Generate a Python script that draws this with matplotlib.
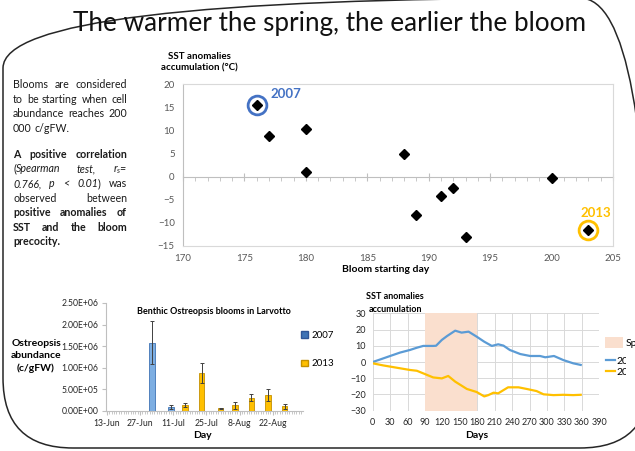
import matplotlib
matplotlib.use("Agg")
import numpy as np
import pandas as pd
import matplotlib.pyplot as plt
from matplotlib.patches import FancyBboxPatch, Patch
from matplotlib.lines import Line2D
from matplotlib.ticker import MultipleLocator, FuncFormatter
from matplotlib.transforms import IdentityTransform, Bbox, TransformedBbox

plt.rcParams['font.family'] = ['Lato', 'DejaVu Sans']
plt.rcParams['mathtext.fontset'] = 'custom'
plt.rcParams['mathtext.rm'] = 'Lato'
plt.rcParams['mathtext.it'] = 'Lato:italic'

W, H = 635, 451
GREY_TXT = '#595959'
AXIS_GREY = '#BFBFBF'
BLUE = '#4472C4'
ORANGE = '#FFC000'
SPRING_COL = '#FADFCE'

# --- data -------------------------------------------------------------
# one point per year: day the bloom started vs accumulated SST anomaly
bloom_day = [176, 177, 180, 180, 188, 189, 191, 192, 193, 200, 203]
sst_accum = [15.4, 8.8, 10.3, 0.9, 4.8, -8.4, -4.1, -2.5, -13.1, -0.4, -11.6]
i_2007, i_2013 = 0, 10

# benthic Ostreopsis abundance (cells per g fresh weight), Larvotto
dates_2007 = ['07-02', '07-10']
abund_2007 = [1.58e6, 0.10e6]
err_2007 = [0.50e6, 0.05e6]
dates_2013 = ['07-16', '07-23', '07-31', '08-06', '08-13', '08-20', '08-27']
abund_2013 = [0.14e6, 0.88e6, 0.06e6, 0.13e6, 0.31e6, 0.37e6, 0.11e6]
err_2013 = [0.05e6, 0.24e6, 0.02e6, 0.08e6, 0.08e6, 0.13e6, 0.06e6]
date_ticks = ['13-Jun', '27-Jun', '11-Jul', '25-Jul', '8-Aug', '22-Aug']

# accumulated SST anomalies through the year
days_2007 = [0, 10, 30, 47, 64, 76, 87, 104, 109, 119, 128, 142, 153, 165, 179,
             192, 205, 216, 225, 236, 254, 271, 288, 297, 312, 328, 345, 358]
accum_2007 = [0, 1.2, 3.7, 5.8, 7.4, 8.8, 9.9, 9.9, 10.0, 13.6, 16.0, 19.3, 18.1,
              18.7, 15.6, 12.5, 9.9, 10.9, 10.1, 7.4, 4.9, 3.7, 3.7, 2.9, 3.7,
              1.2, -0.8, -1.8]
days_2013 = [0, 18, 41, 64, 76, 87, 104, 119, 130, 142, 162, 179, 192, 199, 208,
             216, 233, 251, 265, 282, 294, 311, 328, 345, 358]
accum_2013 = [-0.8, -2.1, -3.5, -4.9, -5.4, -7.0, -9.5, -10.1, -8.6, -12.1, -16.6,
              -18.5, -21.2, -20.4, -18.9, -19.3, -15.6, -15.6, -16.6, -17.9,
              -19.9, -20.4, -20.2, -20.4, -20.2]
spring = (90, 180)

fig = plt.figure(figsize=(W / 100, H / 100), dpi=100)


def px_axes(x0, y0, x1, y1):
    return fig.add_axes([x0 / W, 1 - y1 / H, (x1 - x0) / W, (y1 - y0) / H])


def fx(x):
    return x / W


def fy(y):
    return 1 - y / H


# rounded frame around the slide
frame = FancyBboxPatch((3, 3), 647, 450, boxstyle='round,pad=0,rounding_size=70',
                       transform=IdentityTransform(), fill=False,
                       ec='#262626', lw=1.1)
fig.add_artist(frame)

fig.text(fx(330), fy(31), 'The warmer the spring, the earlier the bloom',
         fontsize=18.8, ha='center', va='baseline', color='#111111')

# --- justified paragraph on the left -----------------------------------
STYLES = {'': {}, 'i': {'style': 'italic'}, 'b': {'weight': 'bold'}}
para = [
    (84.5, 'Blooms are considered', '', True),
    (99.1, 'to be starting when cell', '', True),
    (113.7, 'abundance reaches 200', '', True),
    (128.3, '000 c/gFW.', '', False),
    (154.3, 'A positive correlation', 'b', True),
    (168.9, '(+i:Spearman i:test, i:$r_s$=', '', True),
    (183.5, 'i:0.766, i:p i:< i:0.01+) was', '', True),
    (198.1, 'observed between', '', True),
    (212.7, 'positive anomalies of', 'b', True),
    (227.3, 'SST and the bloom', 'b', True),
    (241.9, 'precocity.', 'b', False),
]
PARA_X0, PARA_X1, PARA_FS = 13, 127, 7.7

renderer = fig.canvas.get_renderer()
space_w = (fig.text(0, 0, 'a a', fontsize=PARA_FS).get_window_extent(renderer).width
           - fig.text(0, 0, 'aa', fontsize=PARA_FS).get_window_extent(renderer).width)
for t in fig.texts[-2:]:
    t.remove()

for y, line, base_style, justify in para:
    words = []
    for word in line.split(' '):
        pieces = []
        for piece in word.split('+'):
            style = base_style
            if piece[:2] in ('i:', 'b:'):
                style, piece = piece[0], piece[2:]
            t = fig.text(0, fy(y + 3.5), piece, fontsize=PARA_FS, va='baseline',
                         color='#1a1a1a', **STYLES[style])
            pieces.append((t, t.get_window_extent(renderer).width))
        words.append(pieces)
    widths = [sum(w for _, w in pcs) for pcs in words]
    if justify and len(words) > 1:
        gap = (PARA_X1 - PARA_X0 - sum(widths)) / (len(words) - 1)
    else:
        gap = space_w
    x = PARA_X0
    for pcs in words:
        for t, w in pcs:
            t.set_x(fx(x))
            x += w
        x += gap

# --- scatter: bloom start vs SST anomalies ------------------------------
ax1 = px_axes(183, 84, 613, 246)
ax1.set_xlim(170, 205)
ax1.set_ylim(-15, 20)
for s in ax1.spines.values():
    s.set_color('#D9D9D9')
    s.set_linewidth(0.8)
ax1.spines['left'].set_color(AXIS_GREY)
ax1.set_xticks(range(170, 206, 5))
ax1.set_yticks(range(-15, 21, 5))
ax1.tick_params(length=0, labelsize=7, colors=GREY_TXT, pad=6)

zero = ax1.secondary_xaxis(15 / 35)
zero.set_xticks(range(170, 206, 5))
zero.xaxis.set_minor_locator(MultipleLocator(1))
zero.tick_params(which='major', direction='inout', length=6, color=AXIS_GREY,
                 labelbottom=False, labeltop=False)
zero.tick_params(which='minor', direction='out', length=3, color=AXIS_GREY)
for s in zero.spines.values():
    s.set_color(AXIS_GREY)
    s.set_linewidth(0.8)

ax1.plot(bloom_day, sst_accum, 'D', color='black', ms=5.5, zorder=3)
for idx, col, label, off in [(i_2007, BLUE, '2007', (14, 11)),
                             (i_2013, ORANGE, '2013', (23, 17))]:
    ax1.plot(bloom_day[idx], sst_accum[idx], 'o', ms=13.5, mfc='none',
             mec=col, mew=2, zorder=4)
    ax1.annotate(label, (bloom_day[idx], sst_accum[idx]), xytext=off,
                 textcoords='offset pixels', color=col, fontsize=9.5,
                 fontweight='bold', va='center',
                 ha='left' if label == '2007' else 'right')

fig.text(fx(199), fy(62.5), 'SST anomalies\naccumulation (°C)', fontsize=7,
         fontweight='bold', ha='center', va='center', linespacing=1.4)
fig.text(fx(386), fy(270), 'Bloom starting day', fontsize=7.5,
         fontweight='bold', ha='center', va='center')

# --- bars: Ostreopsis abundance -----------------------------------------
start = pd.Timestamp('2013-06-13')


def day_offset(md):
    return [(pd.Timestamp('2013-' + d) - start).days for d in md]


ax2 = px_axes(106, 303, 303, 411)
ax2.bar(day_offset(dates_2007), abund_2007, width=2.4, color='#7DAEE2',
        edgecolor='#3F73B5', lw=0.6, yerr=err_2007, ecolor='#404040',
        error_kw=dict(elinewidth=0.7, capsize=1.5, capthick=0.7))
ax2.bar(day_offset(dates_2013), abund_2013, width=2.4, color=ORANGE,
        edgecolor='#C49000', lw=0.6, yerr=err_2013, ecolor='#404040',
        error_kw=dict(elinewidth=0.7, capsize=1.5, capthick=0.7))
ax2.set_xlim(-0.4, 82.8)
ax2.set_ylim(0, 2.5e6)
ax2.set_yticks(np.arange(0, 2.51e6, 0.5e6))
ax2.yaxis.set_major_formatter(FuncFormatter(lambda v, p: f'{v:.2E}'))
ax2.set_xticks(day_offset(['06-13', '06-27', '07-11', '07-25', '08-08', '08-22']))
ax2.set_xticklabels(date_ticks)
ax2.xaxis.set_minor_locator(MultipleLocator(1))
for s in ['top', 'right']:
    ax2.spines[s].set_visible(False)
for s in ['left', 'bottom']:
    ax2.spines[s].set_color(AXIS_GREY)
    ax2.spines[s].set_linewidth(0.8)
ax2.tick_params(which='major', length=3, color=AXIS_GREY, labelsize=6.2,
                labelcolor='#262626', pad=2.5)
ax2.tick_params(which='minor', length=2, color=AXIS_GREY)
fig.text(fx(214), fy(311), 'Benthic Ostreopsis blooms in Larvotto', fontsize=6.5,
         fontweight='bold', ha='center', va='center')
fig.text(fx(36), fy(356), 'Ostreopsis\nabundance\n(c/gFW)', fontsize=7.5,
         fontweight='bold', ha='center', va='center', linespacing=1.45)
fig.text(fx(202), fy(435.5), 'Day', fontsize=7.5, fontweight='bold',
         ha='center', va='center')
fig.legend(handles=[Patch(fc='#3F73B5', ec='#2F5597'), Patch(fc=ORANGE, ec='#C49000')],
           labels=['2007', '2013'], loc='upper left',
           bbox_to_anchor=(fx(301), fy(331)), frameon=False, fontsize=7,
           handlelength=0.7, handleheight=0.7, handletextpad=0.4,
           labelspacing=2.0, borderpad=0, borderaxespad=0)

# --- lines: accumulated SST anomalies over the year ---------------------
ax3 = px_axes(372.7, 313.3, 599.3, 410.7)
ax3.axvspan(*spring, color=SPRING_COL, lw=0, zorder=1)
ax3.plot(days_2007, accum_2007, color='#5B9BD5', lw=1.6, zorder=3)
ax3.plot(days_2013, accum_2013, color=ORANGE, lw=1.6, zorder=3)
ax3.set_xlim(0, 390)
ax3.set_ylim(-30, 30)
ax3.set_xticks(range(0, 391, 30))
ax3.set_yticks(range(-30, 31, 10))
ax3.grid(True, color='#D9D9D9', lw=0.7)
ax3.set_axisbelow(True)
for s in ax3.spines.values():
    s.set_visible(False)
ax3.tick_params(length=0, labelsize=6.5, colors='#262626', pad=5)
fig.text(fx(395), fy(303), 'SST anomalies\naccumulation', fontsize=6.5,
         fontweight='bold', ha='center', va='center', linespacing=1.45)
fig.text(fx(477), fy(435.5), 'Days', fontsize=7.5, fontweight='bold',
         ha='center', va='center')
fig.legend(handles=[Patch(fc=SPRING_COL, ec='none')], labels=['Spring'],
           loc='upper left', bbox_to_anchor=(fx(605), fy(337)), frameon=False,
           fontsize=7.5, handlelength=1.7, handleheight=1.3, handletextpad=0.3,
           borderpad=0, borderaxespad=0)
line_leg = fig.legend(handles=[Line2D([], [], color='#5B9BD5', lw=1.6),
                               Line2D([], [], color=ORANGE, lw=1.6)],
                      labels=['2007', '2013'], loc='upper left',
                      bbox_to_anchor=(fx(606), fy(356.5)), frameon=False,
                      fontsize=7.5, handlelength=0.9, handletextpad=0.15,
                      labelspacing=0.15, borderpad=0, borderaxespad=0)
# the line chart's own area ends just past the first two digits
chart_edge = TransformedBbox(Bbox.from_extents(0, 0, 625.5, H), IdentityTransform())
for t in line_leg.get_texts():
    t.set_clip_box(chart_edge)
    t.set_clip_on(True)

fig.savefig('out.png', dpi=100)
